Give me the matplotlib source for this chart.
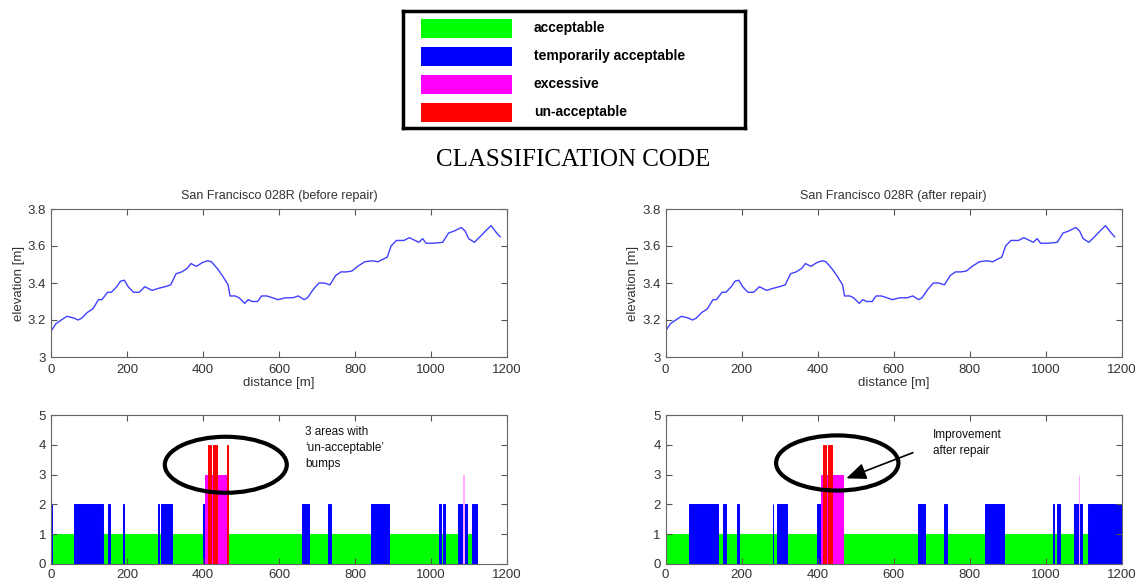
import matplotlib
matplotlib.use("Agg")
import matplotlib.pyplot as plt
from matplotlib.patches import Ellipse, Rectangle

plt.rcParams['font.family'] = ['Liberation Sans', 'DejaVu Sans']

# legend categories
categories = ["acceptable", "temporarily acceptable", "excessive", "un-acceptable"]
cat_colors = ["#00ff00", "#0000ff", "#ff00ff", "#ff0000"]

# elevation profile (same survey line, before/after repair)
distance = [0, 13, 27, 42, 61, 71, 81, 95, 110, 125, 134, 149, 159, 173, 183, 193,
            203, 217, 232, 247, 266, 281, 300, 315, 329, 344, 359, 368, 383, 398,
            412, 422, 437, 451, 466, 471, 485, 495, 510, 519, 529, 544, 554, 568,
            583, 597, 617, 636, 651, 666, 675, 690, 705, 719, 734, 749, 763, 778,
            792, 807, 826, 846, 861, 875, 885, 895, 909, 929, 943, 958, 968, 978,
            987, 1007, 1031, 1046, 1060, 1080, 1090, 1099, 1114, 1129, 1143, 1158,
            1173, 1182]
elevation = [3.14, 3.18, 3.20, 3.22, 3.21, 3.20, 3.21, 3.24, 3.26, 3.31, 3.31, 3.35,
             3.35, 3.38, 3.41, 3.415, 3.38, 3.35, 3.35, 3.38, 3.36, 3.37, 3.38, 3.39,
             3.45, 3.46, 3.48, 3.505, 3.49, 3.51, 3.52, 3.515, 3.48, 3.44, 3.39, 3.33,
             3.33, 3.32, 3.29, 3.31, 3.30, 3.30, 3.33, 3.33, 3.32, 3.31, 3.32, 3.32,
             3.33, 3.31, 3.32, 3.365, 3.40, 3.40, 3.39, 3.44, 3.46, 3.46, 3.465, 3.49,
             3.515, 3.52, 3.515, 3.53, 3.54, 3.60, 3.63, 3.63, 3.645, 3.63, 3.62, 3.64,
             3.615, 3.615, 3.62, 3.67, 3.68, 3.70, 3.68, 3.64, 3.62, 3.65, 3.68, 3.71,
             3.67, 3.65]

# classification segments [start, end] in metres
green_before = [[0, 1107]]
blue_before = [[0, 2], [61, 137], [149, 156], [189, 193], [281, 284], [290, 319],
               [399, 407], [661, 679], [729, 738], [841, 890], [1022, 1025],
               [1031, 1036], [1071, 1094], [1107, 1121]]
magenta_before = [[406, 466]]
red_before = [[412, 415], [418, 421], [425, 431], [432, 438], [463, 467]]
pink_before = [[1084, 1086]]

green_after = [[0, 1111]]
blue_after = [[0, 2], [62, 138], [150, 158], [189, 194], [282, 284], [294, 320],
              [399, 409], [664, 682], [733, 741], [842, 891], [1021, 1023],
              [1029, 1037], [1076, 1097], [1111, 1200]]
magenta_after = [[409, 468]]
red_after = [[414, 417], [420, 423], [427, 433], [434, 439]]
pink_after = [[1087, 1089]]

class_levels = [1, 2, 3, 4]

W, H = 1147, 585
fig = plt.figure(figsize=(W / 100, H / 100), dpi=100)


def style_axes(ax):
    ax.tick_params(direction='in', top=True, right=True, length=4,
                   labelsize=9.5, labelcolor='#333333', color='#555555')
    for s in ax.spines.values():
        s.set_color('#666666')
        s.set_linewidth(0.8)


def draw_segments(ax, segs, height, color):
    starts = [s[0] for s in segs]
    widths = [s[1] - s[0] for s in segs]
    ax.bar(starts, [height] * len(segs), width=widths, align='edge',
           color=color, edgecolor=color, linewidth=0.7)


# legend box
lax = fig.add_axes([403 / W, 1 - 128 / H, 342 / W, 117 / H])
lax.set_xlim(0, 342)
lax.set_ylim(117, 0)
lax.set_xticks([])
lax.set_yticks([])
for s in lax.spines.values():
    s.set_linewidth(2.5)
    s.set_color('black')
for i, (name, col) in enumerate(zip(categories, cat_colors)):
    yc = 17 + i * 28
    lax.add_patch(Rectangle((18, yc - 9.5), 91, 19, color=col, lw=0))
    lax.text(131, yc, name, fontsize=10, fontweight='bold', va='center', ha='left')

fig.text(573 / W, 1 - 160 / H, "CLASSIFICATION CODE", family='Liberation Serif',
         fontsize=18, ha='center', va='center')

panels = [
    (51, "San Francisco 028R (before repair)", green_before, blue_before,
     magenta_before, red_before, pink_before),
    (665.5, "San Francisco 028R (after repair)", green_after, blue_after,
     magenta_after, red_after, pink_after),
]

bottom_axes = []
for x0, title, g, b, m, r, p in panels:
    ax = fig.add_axes([x0 / W, (H - 357) / H, 456 / W, 148 / H])
    ax.plot(distance, elevation, color='#4040ff', lw=1)
    ax.set_xlim(0, 1200)
    ax.set_ylim(3, 3.8)
    ax.set_xticks(range(0, 1201, 200))
    ax.set_yticks([3, 3.2, 3.4, 3.6, 3.8])
    ax.set_yticklabels(['3', '3.2', '3.4', '3.6', '3.8'])
    ax.set_title(title, fontsize=9, color='#333333', pad=7)
    ax.set_xlabel("distance [m]", fontsize=9.5, color='#333333', labelpad=1)
    ax.set_ylabel("elevation [m]", fontsize=9.5, color='#333333', labelpad=2)
    style_axes(ax)
    ax.tick_params(axis='x', pad=5)

    bx = fig.add_axes([x0 / W, (H - 564) / H, 456 / W, 149 / H])
    draw_segments(bx, g, class_levels[0], cat_colors[0])
    draw_segments(bx, b, class_levels[1], cat_colors[1])
    draw_segments(bx, p, class_levels[2], '#ffaaff')
    draw_segments(bx, m, class_levels[2], cat_colors[2])
    draw_segments(bx, r, class_levels[3], cat_colors[3])
    bx.set_xlim(0, 1200)
    bx.set_ylim(0, 5)
    bx.set_xticks(range(0, 1201, 200))
    bx.set_yticks(range(0, 6))
    style_axes(bx)
    bottom_axes.append(bx)

# annotations
bl, br = bottom_axes
bl.add_patch(Ellipse((460, 3.33), 321, 1.88, fill=False, lw=3, color='black',
                     clip_on=False))
bl.text(668, 4.63, "3 areas with\n\u2018un-acceptable\u2019\nbumps", fontsize=8.5,
        va='top', ha='left', linespacing=1.45, color='#111111')

br.add_patch(Ellipse((452, 3.39), 322, 1.85, fill=False, lw=3, color='black',
                     clip_on=False))
br.text(704, 4.53, "Improvement\nafter repair", fontsize=8.5, va='top', ha='left',
        linespacing=1.45, color='#111111')
br.annotate("", xy=(469, 2.84), xytext=(658, 3.77),
            arrowprops=dict(arrowstyle='-|>,head_length=1.2,head_width=0.5',
                            color='black', lw=1.2))

fig.savefig("out.png", dpi=100)
